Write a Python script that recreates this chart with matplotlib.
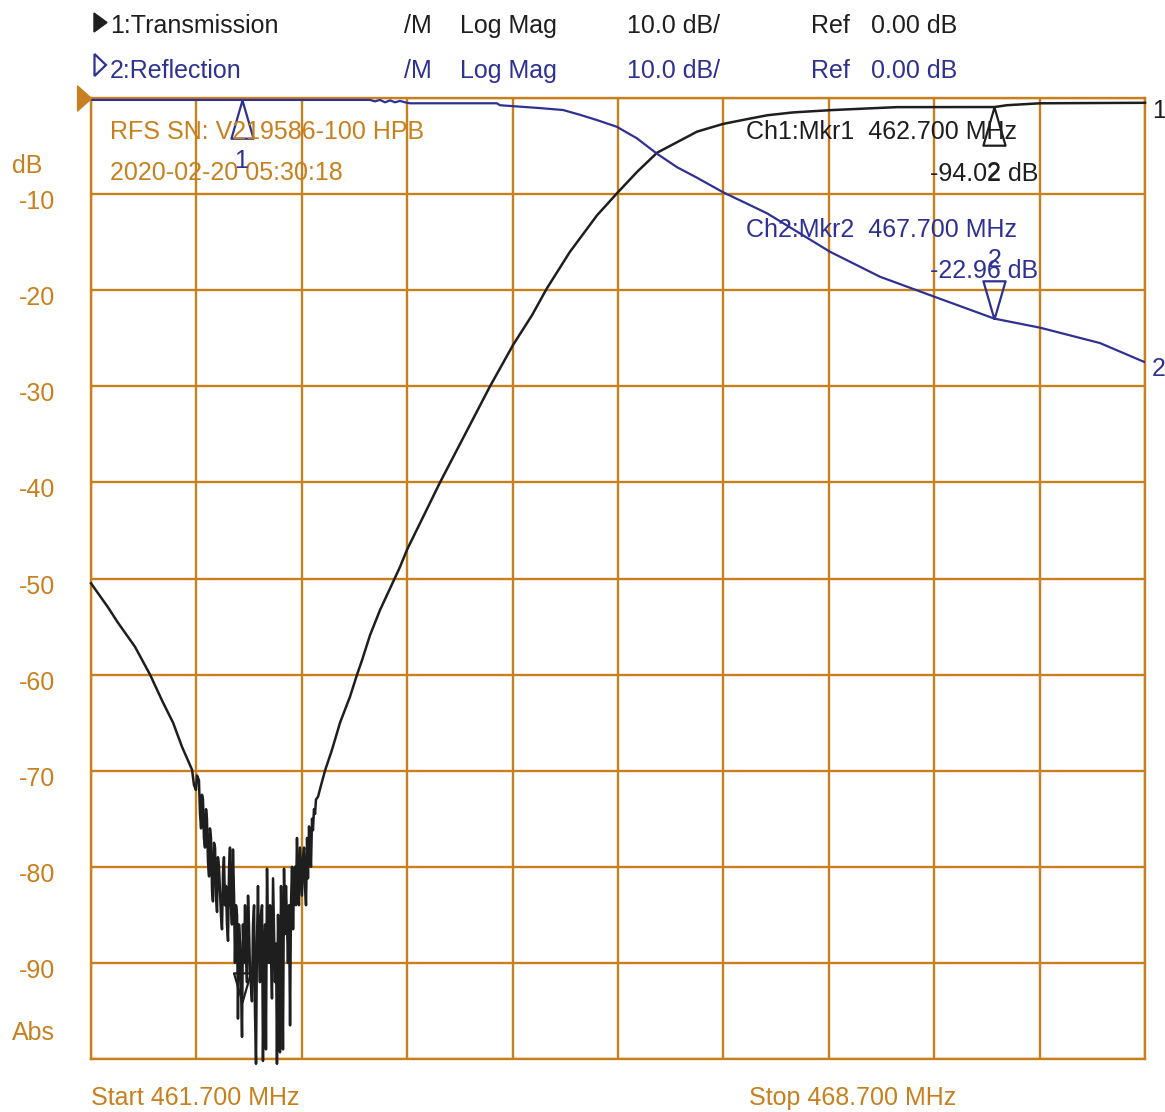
import numpy as np
import matplotlib.pyplot as plt
from matplotlib.patches import Polygon

# Transmission trace (channel 1): MHz / dB
trans_freq = [461.700, 461.813, 461.879, 461.992, 462.092, 462.178, 462.245, 462.304,
              # noisy stop band
              462.371, 462.384, 462.397, 462.404, 462.417, 462.424, 462.431, 462.437, 462.444, 462.450,
              462.457, 462.464, 462.470, 462.477, 462.484, 462.490, 462.497, 462.504, 462.510, 462.517,
              462.524, 462.530, 462.537, 462.543, 462.550, 462.563, 462.570, 462.577, 462.583, 462.590,
              462.597, 462.603, 462.610, 462.617, 462.623, 462.630, 462.636, 462.643, 462.650, 462.656,
              462.663, 462.670, 462.676, 462.683, 462.690, 462.696, 462.703, 462.709, 462.716, 462.723,
              462.729, 462.736, 462.743, 462.749, 462.756, 462.769, 462.776, 462.783, 462.789, 462.796,
              462.802, 462.809, 462.816, 462.822, 462.829, 462.836, 462.842, 462.849, 462.856, 462.862,
              462.869, 462.876, 462.882, 462.889, 462.895, 462.902, 462.909, 462.915, 462.922, 462.929,
              462.935, 462.942, 462.949, 462.955, 462.962, 462.969, 462.975, 462.982, 462.988, 462.995,
              463.002, 463.008, 463.015, 463.022, 463.028, 463.035, 463.042, 463.048, 463.055, 463.061,
              463.068, 463.075, 463.081, 463.088, 463.101, 463.108, 463.115, 463.121, 463.128, 463.135,
              463.141, 463.148, 463.154, 463.161, 463.168, 463.174, 463.181, 463.188, 463.194, 463.208,
              463.228, 463.254,
              # rising skirt and pass band
              463.301, 463.354, 463.420, 463.467, 463.500, 463.553, 463.619, 463.719, 463.752, 463.799,
              464.018, 464.350, 464.503, 464.629, 464.728, 464.881, 465.061, 465.200, 465.326, 465.459,
              465.592, 465.725, 465.897, 466.057, 466.190, 466.362, 466.628, 467.053, 467.700, 467.784,
              468.003, 468.700]
trans_db = [-50.5, -53.0, -54.6, -57.1, -60.0, -62.9, -65.0, -67.5,
            -69.9, -71.5, -72.0, -70.5, -71.0, -74.5, -76.0, -72.5, -73.0, -77.0,
            -78.0, -74.0, -75.0, -79.5, -81.0, -76.0, -77.0, -82.5, -83.6, -77.5,
            -78.0, -83.0, -84.7, -79.0, -80.0, -85.0, -86.5, -80.5, -79.0, -84.0,
            -82.0, -86.0, -87.7, -80.0, -78.0, -84.0, -86.0, -78.2, -83.0, -90.0,
            -84.0, -85.0, -95.8, -86.0, -88.0, -92.0, -97.7, -86.0, -90.0, -84.0,
            -89.0, -92.0, -83.0, -86.0, -91.0, -94.0, -86.0, -84.0, -95.0, -100.5,
            -88.0, -82.0, -89.0, -92.0, -85.0, -84.0, -100.2, -90.0, -86.0, -99.0,
            -80.2, -88.0, -90.0, -84.0, -89.0, -93.7, -81.2, -86.0, -92.0, -88.0,
            -100.5, -85.0, -91.0, -99.3, -82.0, -90.0, -99.0, -80.2, -87.0, -82.0,
            -86.0, -90.0, -84.0, -96.5, -84.0, -80.0, -86.5, -82.0, -80.0, -84.0,
            -77.0, -82.0, -84.0, -78.0, -83.0, -79.0, -78.0, -82.0, -84.0, -77.0,
            -81.2, -75.8, -78.0, -80.0, -75.0, -76.2, -74.0, -74.5, -73.0, -72.7,
            -71.5, -70.0,
            -67.8, -65.0, -62.3, -60.0, -58.5, -55.9, -53.3, -49.9, -48.8, -47.0,
            -40.0, -30.0, -25.7, -22.6, -19.8, -16.0, -12.2, -9.8, -7.7, -5.7,
            -4.6, -3.5, -2.7, -2.2, -1.8, -1.5, -1.25, -0.95, -0.94, -0.75,
            -0.55, -0.5]

# Reflection trace (channel 2)
refl_freq = [461.700, 463.553, 463.586, 463.619, 463.653, 463.686, 463.719, 463.752, 463.785,
             463.819, 464.396, 464.416, 464.503, 464.682, 464.835, 464.948, 465.061, 465.193,
             465.326, 465.459, 465.592, 465.725, 465.897, 466.190, 466.608, 466.940, 467.305,
             467.700, 468.003, 468.401, 468.700]
refl_db = [-0.2, -0.2, -0.35, -0.2, -0.45, -0.25, -0.45, -0.3, -0.45,
           -0.55, -0.55, -0.75, -0.85, -1.05, -1.25, -1.75, -2.3, -3.0,
           -4.2, -5.8, -7.2, -8.3, -9.8, -12.0, -16.0, -18.6, -20.7,
           -22.96, -23.9, -25.5, -27.5]

start_mhz, stop_mhz = 461.7, 468.7
db_labels = [-10, -20, -30, -40, -50, -60, -70, -80, -90]
mkr_freq = [462.7, 467.7]
mkr_trans_db = [-94.02, -0.94]
mkr_refl_db = [-0.2, -22.96]

ORANGE = '#C8801E'
BLUE = '#2E3192'
BLACK = '#1E1E1E'

W, H = 1165, 1112
plt.rcParams['font.family'] = ['Liberation Sans', 'DejaVu Sans']

fig = plt.figure(figsize=(W / 100, H / 100), dpi=100)
ax = fig.add_axes([91 / W, 1 - 1059 / H, (1145 - 91) / W, (1059 - 98) / H])
ax.set_xlim(start_mhz, stop_mhz)
ax.set_ylim(-100, 0)
ax.set_xticks(np.linspace(start_mhz, stop_mhz, 11))
ax.set_yticks(np.arange(-100, 1, 10))
ax.grid(color=ORANGE, lw=1.7)
ax.tick_params(length=0, labelbottom=False, labelleft=False)
for sp in ax.spines.values():
    sp.set_color(ORANGE)
    sp.set_linewidth(1.7)

ax.plot(trans_freq, trans_db, color=BLACK, lw=1.8, clip_on=False, zorder=3)
ax.plot(refl_freq, refl_db, color=BLUE, lw=1.6, zorder=4)

# marker triangles, apex sits on the trace
up = [(0, 0), (0.29, -1), (-0.29, -1), (0, 0)]
down = [(0, 0), (0.29, 1), (-0.29, 1), (0, 0)]
ax.plot(mkr_freq[0], mkr_refl_db[0], marker=up, ms=55, mfc='none', mec=BLUE, mew=1.6, clip_on=False, zorder=5)
ax.plot(mkr_freq[1], mkr_refl_db[1], marker=down, ms=55, mfc='none', mec=BLUE, mew=1.6, clip_on=False, zorder=5)
ax.plot(mkr_freq[0], mkr_trans_db[0], marker=down, ms=42, mfc='none', mec=BLACK, mew=1.6, clip_on=False, zorder=5)
ax.plot(mkr_freq[1], mkr_trans_db[1], marker=up, ms=55, mfc='none', mec=BLACK, mew=1.6, clip_on=False, zorder=5)

# reference level pointer on the left edge
ref_mark = [(0, 0), (-1, 0.9), (-1, -0.9), (0, 0)]
ax.plot(start_mhz, 0, marker=ref_mark, ms=20, color=ORANGE, clip_on=False, zorder=5)


def ftext(x, y, s, color, ha='left'):
    fig.text(x / W, 1 - y / H, s, color=color, ha=ha, va='baseline', fontsize=18)


# header
fig.add_artist(Polygon([(94 / W, 1 - 13 / H), (107 / W, 1 - 22.5 / H), (94 / W, 1 - 32 / H)],
                       closed=True, fc=BLACK, ec=BLACK, transform=fig.transFigure))
fig.add_artist(Polygon([(94.5 / W, 1 - 54 / H), (106 / W, 1 - 65 / H), (94.5 / W, 1 - 76 / H)],
                       closed=True, fc='none', ec=BLUE, lw=1.6, transform=fig.transFigure))
for y, col, name in [(33, BLACK, '1:Transmission'), (78, BLUE, '2:Reflection')]:
    ftext(110, y, name, col)
    ftext(404, y, '/M', col)
    ftext(460, y, 'Log Mag', col)
    ftext(627, y, '10.0 dB/', col)
    ftext(811, y, 'Ref', col)
    ftext(871, y, '0.00 dB', col)

# annotations inside the grid
ftext(110, 139, 'RFS SN: V219586-100 HPB', ORANGE)
ftext(110, 180, '2020-02-20 05:30:18', ORANGE)
ftext(746, 139, 'Ch1:Mkr1  462.700 MHz', BLACK)
ftext(1038, 181, '%.2f dB' % mkr_trans_db[0], BLACK, ha='right')
ftext(746, 237, 'Ch2:Mkr2  467.700 MHz', BLUE)
ftext(1038, 278, '%.2f dB' % mkr_refl_db[1], BLUE, ha='right')
ftext(241, 168, '1', BLUE, ha='center')
ftext(994, 180, '2', BLACK, ha='center')
ftext(995, 267, '2', BLUE, ha='center')
ftext(1152, 118, '1', BLACK)
ftext(1152, 376, '2', BLUE)

# left scale
ftext(12, 173, 'dB', ORANGE)
for v in db_labels:
    ftext(37, 98 + (-v) * 9.61 + 15, str(v), ORANGE, ha='center')
ftext(12, 1040, 'Abs', ORANGE)

ftext(91, 1105, 'Start %.3f MHz' % start_mhz, ORANGE)
ftext(749, 1105, 'Stop %.3f MHz' % stop_mhz, ORANGE)

fig.savefig('out.png', dpi=100)
